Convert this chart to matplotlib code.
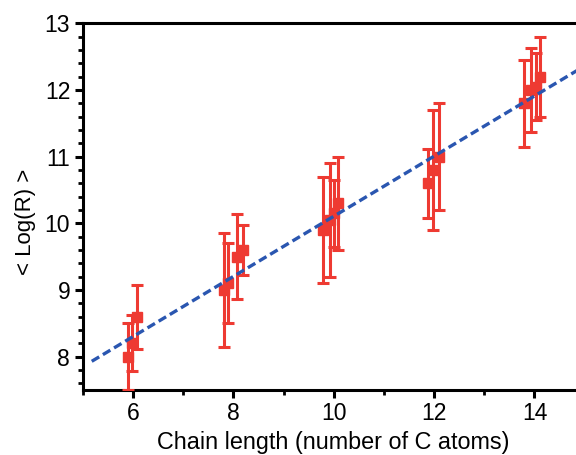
import matplotlib.pyplot as plt
import numpy as np
from matplotlib.ticker import MultipleLocator

plt.rcParams['font.family'] = ['Liberation Sans', 'DejaVu Sans']

# chain length (slightly offset per sample), mean log(R) and error
chain_x = [5.90, 5.99, 6.08,
           7.81, 7.90, 8.08, 8.19,
           9.79, 9.92, 10.0, 10.08,
           11.88, 11.98, 12.10,
           13.80, 13.94, 14.02, 14.10]
log_r = [8.00, 8.20, 8.60,
         9.00, 9.10, 9.50, 9.60,
         9.90, 10.05, 10.15, 10.30,
         10.60, 10.80, 11.00,
         11.80, 12.00, 12.05, 12.20]
log_r_err = [0.50, 0.42, 0.48,
             0.85, 0.60, 0.64, 0.37,
             0.80, 0.85, 0.50, 0.70,
             0.52, 0.90, 0.80,
             0.65, 0.63, 0.50, 0.60]

# linear fit line endpoints
fit_x = [5.18, 15.0]
fit_y = [7.93, 12.36]

fig = plt.figure(figsize=(5.76, 4.55), dpi=100)
ax = fig.add_axes([0.1436, 0.1429, 0.8715, 0.806])

ax.errorbar(chain_x, log_r, yerr=log_r_err, fmt='s', color='#ee3a32',
            ecolor='#ee3a32', markersize=7, elinewidth=2.2, capsize=4.5,
            capthick=2.2, zorder=3)
ax.plot(fit_x, fit_y, color='#2a56b0', lw=2.4, dashes=(2.6, 1.3), zorder=4)

ax.set_xlim(5, 15)
ax.set_ylim(7.5, 13)
ax.xaxis.set_major_locator(MultipleLocator(2))
ax.xaxis.set_minor_locator(MultipleLocator(1))
ax.yaxis.set_major_locator(MultipleLocator(1))
ax.yaxis.set_minor_locator(MultipleLocator(0.2))

for s in ax.spines.values():
    s.set_linewidth(2.2)
ax.tick_params(which='major', length=6, width=2.2, labelsize=16.5, pad=3)
ax.tick_params(which='minor', length=3.5, width=2.0)

ax.set_xlabel('Chain length (number of C atoms)', fontsize=16.8, labelpad=4)
ax.set_ylabel('< Log(R) >', fontsize=16, labelpad=6, y=0.458)

fig.savefig('out.png', dpi=100)
